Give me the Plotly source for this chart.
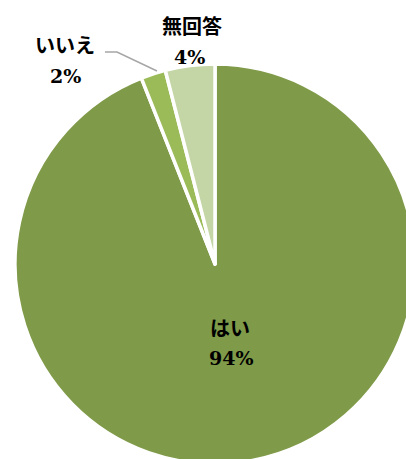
import plotly.graph_objects as go

labels = ["はい", "いいえ", "無回答"]
values = [94, 2, 4]
pct_text = ["94%", "2%", "4%"]
colors = ["#7f9a48", "#9bbb59", "#c4d6a6"]

W, H = 430, 480
L, T, PW, PH = 15, 64, 400, 400


def px(x):
    return (x - L) / PW


def py(y):
    return 1 - (y - T) / PH


fig = go.Figure(go.Pie(
    labels=labels,
    values=values,
    sort=False,
    direction="clockwise",
    rotation=0,
    marker=dict(colors=colors, line=dict(color="white", width=3.5)),
    textinfo="none",
    hoverinfo="label+percent",
    showlegend=False,
))

jfont = dict(family="Noto Sans CJK JP", size=20, color="black")
nfont = dict(family="DejaVu Serif", size=19, color="black")
pos = {
    "はい": ((230, 327), (231, 358)),
    "いいえ": ((65, 45), (65, 76)),
    "無回答": ((192, 25), (189, 57)),
}
anns = []
for lab, pt in zip(labels, pct_text):
    (x1, y1), (x2, y2) = pos[lab]
    anns.append(dict(x=px(x1), y=py(y1), xref="paper", yref="paper", text="<b>%s</b>" % lab,
                     showarrow=False, font=jfont, xanchor="center", yanchor="middle"))
    anns.append(dict(x=px(x2), y=py(y2), xref="paper", yref="paper", text="<b>%s</b>" % pt,
                     showarrow=False, font=nfont, xanchor="center", yanchor="middle"))

fig.update_layout(
    width=W, height=H,
    margin=dict(l=L, r=W - L - PW, t=T, b=H - T - PH, pad=0),
    paper_bgcolor="white", plot_bgcolor="white",
    annotations=anns,
    shapes=[dict(type="path", xref="paper", yref="paper",
                 path="M %f,%f L %f,%f L %f,%f" % (px(105), py(52), px(117), py(52), px(157), py(71)),
                 line=dict(color="#a6a6a6", width=1.5))],
)

fig.write_html("out.html", config={"displayModeBar": False},
               post_script="document.body.style.margin='0';document.body.style.overflow='hidden';")
